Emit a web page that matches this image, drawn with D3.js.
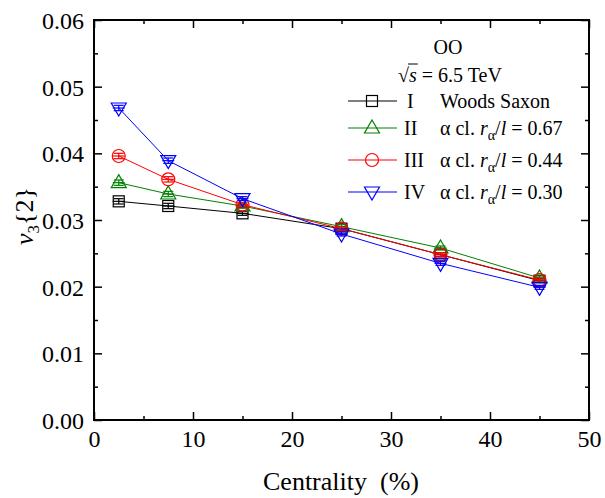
<!DOCTYPE html>
<html><head><meta charset="utf-8">
<script src="https://cdn.jsdelivr.net/npm/d3@7"></script>
<style>body{margin:0;background:#fff}</style>
</head><body>
<svg id="c" width="605" height="498"></svg>
<script>
const centrality = [2.5, 7.5, 15, 25, 35, 45];
const seriesI   = [0.0328, 0.0321, 0.0310, 0.0287, 0.0248, 0.0209];
const seriesII  = [0.0356, 0.0339, 0.0321, 0.0290, 0.0258, 0.0213];
const seriesIII = [0.0396, 0.0361, 0.0323, 0.0287, 0.0248, 0.0210];
const seriesIV  = [0.0468, 0.0389, 0.0332, 0.0279, 0.0235, 0.0199];
const errI   = [0.0004, 0.0004, 0.0003, 0.0003, 0.0003, 0.0003];
const errII  = [0.0004, 0.0004, 0.0003, 0.0003, 0.0003, 0.0003];
const errIII = [0.0004, 0.0004, 0.0003, 0.0003, 0.0003, 0.0003];
const errIV  = [0.0004, 0.0004, 0.0003, 0.0003, 0.0003, 0.0003];
const xTicks = [0, 10, 20, 30, 40, 50];
const yTicks = [0.00, 0.01, 0.02, 0.03, 0.04, 0.05, 0.06];
const labels = ["I", "II", "III", "IV"];

const series = [
  {vals: seriesI, err: errI, color: "#000000", sym: "square", label: "I"},
  {vals: seriesII, err: errII, color: "#008000", sym: "tri", label: "II"},
  {vals: seriesIII, err: errIII, color: "#ff0000", sym: "circle", label: "III"},
  {vals: seriesIV, err: errIV, color: "#0000ff", sym: "tridown", label: "IV"}
];

const FONT = '"Liberation Serif"';
const svg = d3.select("#c");
const L = 94, R = 589, T = 20, B = 420;
const x = d3.scaleLinear().domain([0, 50]).range([L, R]);
const y = d3.scaleLinear().domain([0, 0.06]).range([B, T]);

function marker(g, sym, color, cx, cy) {
  if (sym === "square") {
    g.append("rect").attr("x", cx - 5.5).attr("y", cy - 5.5).attr("width", 11).attr("height", 11)
      .attr("fill", "none").attr("stroke", color).attr("stroke-width", 1.2);
  } else if (sym === "circle") {
    g.append("circle").attr("cx", cx).attr("cy", cy).attr("r", 6.5)
      .attr("fill", "none").attr("stroke", color).attr("stroke-width", 1.2);
  } else if (sym === "tri") {
    g.append("path").attr("d", `M${cx},${cy-8}L${cx+7.5},${cy+5}L${cx-7.5},${cy+5}Z`)
      .attr("fill", "none").attr("stroke", color).attr("stroke-width", 1.2);
  } else {
    g.append("path").attr("d", `M${cx},${cy+8}L${cx+7.5},${cy-5}L${cx-7.5},${cy-5}Z`)
      .attr("fill", "none").attr("stroke", color).attr("stroke-width", 1.2);
  }
}

const axB = d3.axisBottom(x).tickValues(d3.range(0, 51, 5)).tickSizeInner(-8).tickSizeOuter(0)
  .tickFormat(d => xTicks.includes(d) ? d : "");
const axT = d3.axisTop(x).tickValues(d3.range(0, 51, 5)).tickSizeInner(-8).tickSizeOuter(0).tickFormat("");
const axLf = d3.axisLeft(y).tickValues(d3.range(0, 0.0601, 0.005)).tickSizeInner(-8).tickSizeOuter(0)
  .tickFormat(d => { const m = yTicks.find(t => Math.abs(t - d) < 1e-9); return m !== undefined ? d3.format(".2f")(m) : ""; });
const axRt = d3.axisRight(y).tickValues(d3.range(0, 0.0601, 0.005)).tickSizeInner(-8).tickSizeOuter(0).tickFormat("");

function styleAxis(g) {
  g.attr("font-family", null);
  g.select(".domain").remove();
  g.selectAll(".tick line").attr("stroke", "#000").attr("stroke-width", 1.5);
  g.selectAll(".tick text").attr("font-size", 24).attr("fill", "#000").style("font-family", FONT);
}
const gB = svg.append("g").attr("transform", `translate(0,${B})`).call(axB);
styleAxis(gB);
gB.selectAll(".tick text").attr("y", 27).attr("dy", 0);
gB.selectAll(".tick").filter(d => d % 10 !== 0).select("line").attr("y2", -4);
const gT = svg.append("g").attr("transform", `translate(0,${T})`).call(axT);
styleAxis(gT);
gT.selectAll(".tick").filter(d => d % 10 !== 0).select("line").attr("y2", 4);
const gL = svg.append("g").attr("transform", `translate(${L},0)`).call(axLf);
styleAxis(gL);
gL.selectAll(".tick text").attr("x", -10).attr("dy", "0.35em");
gL.selectAll(".tick").filter(d => Math.round(d * 1000) % 10 !== 0).select("line").attr("x2", 4);
const gR = svg.append("g").attr("transform", `translate(${R},0)`).call(axRt);
styleAxis(gR);
gR.selectAll(".tick").filter(d => Math.round(d * 1000) % 10 !== 0).select("line").attr("x2", -4);

svg.append("rect").attr("x", L).attr("y", T).attr("width", R - L).attr("height", B - T)
  .attr("fill", "none").attr("stroke", "#000").attr("stroke-width", 2);

const line = d3.line().x((d, i) => x(centrality[i])).y(d => y(d));
series.forEach(s => {
  const g = svg.append("g");
  g.append("path").attr("d", line(s.vals)).attr("fill", "none").attr("stroke", s.color).attr("stroke-width", 1);
  s.vals.forEach((v, i) => {
    const cx = x(centrality[i]), cy = y(v);
    const y0 = y(v - s.err[i]), y1 = y(v + s.err[i]);
    g.append("line").attr("x1", cx).attr("x2", cx).attr("y1", y0).attr("y2", y1).attr("stroke", s.color).attr("stroke-width", 1.2);
    g.append("line").attr("x1", cx - 5).attr("x2", cx + 5).attr("y1", y0).attr("y2", y0).attr("stroke", s.color).attr("stroke-width", 1.2);
    g.append("line").attr("x1", cx - 5).attr("x2", cx + 5).attr("y1", y1).attr("y2", y1).attr("stroke", s.color).attr("stroke-width", 1.2);
    g.append("line").attr("x1", cx - 6).attr("x2", cx + 6).attr("y1", cy).attr("y2", cy).attr("stroke", s.color).attr("stroke-width", 1.2);
    marker(g, s.sym, s.color, cx, cy);
  });
});

const fs = 20;
function txt(xx, yy, size) {
  return svg.append("text").attr("x", xx).attr("y", yy).attr("font-size", size).style("font-family", FONT).attr("fill", "#000");
}
txt(448, 54, fs).attr("text-anchor", "middle").text("OO");
const t2 = txt(398, 82, fs);
t2.append("tspan").text("√");
t2.append("tspan").attr("font-style", "italic").text("s");
t2.append("tspan").text(" = 6.5 TeV");
const n2 = t2.node();
const sx0 = n2.getStartPositionOfChar(1).x, sx1 = n2.getEndPositionOfChar(1).x;
svg.append("line").attr("x1", sx0 - 1).attr("x2", sx1 + 1).attr("y1", 64).attr("y2", 64).attr("stroke", "#000").attr("stroke-width", 1);

const rowsY = [101, 128, 160, 192];
const descr = [null, "0.67", "0.44", "0.30"];
series.forEach((s, i) => {
  const ry = rowsY[i];
  svg.append("line").attr("x1", 348).attr("x2", 397).attr("y1", ry).attr("y2", ry).attr("stroke", s.color).attr("stroke-width", 1);
  marker(svg, s.sym, s.color, 372, ry);
  txt(i === 0 ? 407 : 404, ry + 7, fs).text(labels[i]);
  const t = txt(440, ry + 7, fs);
  if (i === 0) { t.text("Woods Saxon"); }
  else {
    t.append("tspan").text("α cl. ");
    t.append("tspan").attr("font-style", "italic").text("r");
    t.append("tspan").attr("font-size", 14).attr("dy", 5).text("α");
    t.append("tspan").attr("dy", -5).text("/");
    t.append("tspan").attr("font-style", "italic").text("l");
    t.append("tspan").text(" = " + descr[i]);
  }
});

txt(341, 490, 26).attr("text-anchor", "middle").style("white-space", "pre").text("Centrality  (%)");
const yl = svg.append("text").attr("transform", `translate(33,${(T + B) / 2 - 4}) rotate(-90)`)
  .attr("text-anchor", "middle").attr("font-size", 26).style("font-family", FONT);
yl.append("tspan").attr("font-style", "italic").text("v");
yl.append("tspan").attr("font-size", 17).attr("dy", 6).text("3");
yl.append("tspan").attr("dy", -6).text("{2}");
</script>
</body></html>
